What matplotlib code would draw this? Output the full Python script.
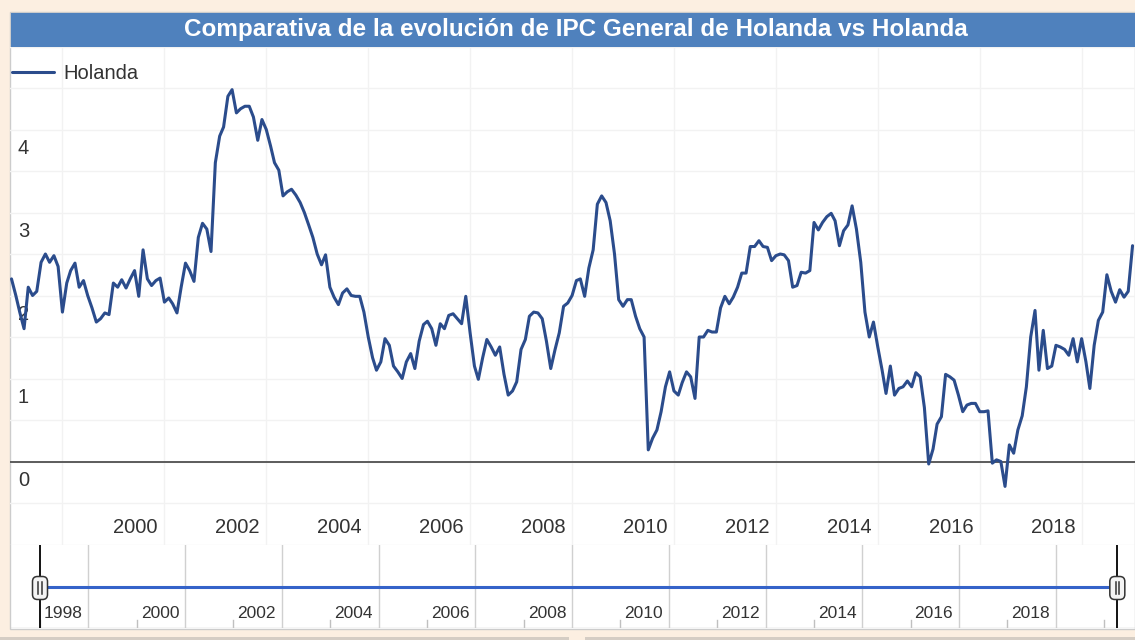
# -*- coding: utf-8 -*-
"""
IPC General de Holanda - variacion anual, con navegador abajo
"""

#%% Import modules
import pandas as pd
import matplotlib
matplotlib.use("Agg")
import matplotlib.pyplot as plt
import matplotlib.dates as mdates
import matplotlib.transforms as mtrans
from matplotlib.patches import Rectangle, FancyBboxPatch

#%% Data (mensuales desde ene-1998)
start = "1998-01-01"
v1998 = [2.2, 2.0, 1.8, 1.6, 2.1, 2.0, 2.05, 2.4, 2.5, 2.4, 2.48, 2.35]
v1999 = [1.8, 2.15, 2.3, 2.39, 2.1, 2.18, 2.0, 1.85, 1.68, 1.72, 1.79, 1.77]
v2000 = [2.15, 2.1, 2.19, 2.09, 2.2, 2.3, 1.99, 2.55, 2.2, 2.12, 2.18, 2.21]
v2001 = [1.92, 1.97, 1.9, 1.79, 2.1, 2.39, 2.3, 2.17, 2.7, 2.87, 2.8, 2.53]
v2002 = [3.6, 3.92, 4.03, 4.4, 4.48, 4.2, 4.25, 4.28, 4.28, 4.15, 3.87, 4.12]
v2003 = [4.0, 3.8, 3.6, 3.51, 3.2, 3.25, 3.28, 3.21, 3.12, 3.0, 2.85, 2.7]
v2004 = [2.5, 2.37, 2.49, 2.1, 1.98, 1.89, 2.03, 2.08, 2.0, 1.99, 1.99, 1.8]
v2005 = [1.5, 1.25, 1.1, 1.2, 1.48, 1.4, 1.15, 1.08, 1.0, 1.2, 1.3, 1.12]
v2006 = [1.45, 1.65, 1.69, 1.6, 1.4, 1.66, 1.6, 1.76, 1.78, 1.72, 1.66, 1.99]
v2007 = [1.55, 1.15, 0.99, 1.25, 1.47, 1.38, 1.28, 1.38, 1.05, 0.8, 0.85, 0.96]
v2008 = [1.35, 1.47, 1.75, 1.80, 1.79, 1.72, 1.45, 1.12, 1.35, 1.55, 1.87, 1.91]
v2009 = [2.0, 2.18, 2.2, 1.99, 2.33, 2.55, 3.1, 3.2, 3.12, 2.9, 2.5, 1.95]
v2010 = [1.87, 1.95, 1.95, 1.75, 1.6, 1.5, 0.14, 0.28, 0.38, 0.6, 0.9, 1.08]
v2011 = [0.85, 0.8, 0.95, 1.08, 1.02, 0.76, 1.5, 1.5, 1.58, 1.56, 1.56, 1.85]
v2012 = [1.99, 1.9, 1.98, 2.1, 2.27, 2.27, 2.59, 2.59, 2.66, 2.59, 2.58, 2.42]
v2013 = [2.48, 2.5, 2.49, 2.42, 2.1, 2.12, 2.28, 2.27, 2.3, 2.88, 2.79, 2.88]
v2014 = [2.95, 2.99, 2.9, 2.6, 2.78, 2.85, 3.08, 2.8, 2.4, 1.8, 1.5, 1.68]
v2015 = [1.38, 1.1, 0.82, 1.15, 0.8, 0.88, 0.9, 0.97, 0.9, 1.07, 1.02, 0.65]
v2016 = [-0.03, 0.15, 0.45, 0.54, 1.05, 1.02, 0.98, 0.8, 0.6, 0.68, 0.7, 0.7]
v2017 = [0.6, 0.6, 0.61, -0.02, 0.02, 0.0, -0.3, 0.2, 0.1, 0.38, 0.55, 0.9]
v2018 = [1.5, 1.82, 1.1, 1.58, 1.12, 1.15, 1.4, 1.38, 1.35, 1.28, 1.48, 1.2]
v2019 = [1.48, 1.2, 0.88, 1.4, 1.7, 1.8, 2.25, 2.05, 1.92, 2.07, 1.98, 2.05]
v2020 = [2.6]

values = (v1998 + v1999 + v2000 + v2001 + v2002 + v2003 + v2004 + v2005 + v2006
          + v2007 + v2008 + v2009 + v2010 + v2011 + v2012 + v2013 + v2014 + v2015
          + v2016 + v2017 + v2018 + v2019 + v2020)
dates = pd.date_range(start, periods=len(values), freq="MS")
serie = pd.Series(values, index=dates)

yticks = [0, 1, 2, 3, 4]
label_years = list(range(2000, 2020, 2))
nav_years = list(range(1998, 2020, 2))
nav_range = ("1998-01-01", "2020-04-10")

title = "Comparativa de la evolución de IPC General de Holanda vs Holanda"
legend_name = "Holanda"

#%% Config
W, H = 1135, 640
peach = "#fcefe1"
bar_blue = "#4f81bd"
line_blue = "#2b4c8c"
nav_blue = "#3563c9"
txt = "#333333"
grid = "#f2f2f2"
plt.rcParams["font.family"] = ["Liberation Sans", "DejaVu Sans"]


def rect(x0, y0, x1, y1):
    """pixel box (top-down) -> figure fraction [l, b, w, h]"""
    return [x0 / W, 1 - y1 / H, (x1 - x0) / W, (y1 - y0) / H]


fig = plt.figure(figsize=(W / 100, H / 100), dpi=100, facecolor=peach)

# white container + title bar
fig.patches.append(Rectangle((10 / W, 1 - 629 / H), 1125 / W, 617 / H, transform=fig.transFigure,
                             facecolor="white", edgecolor="#cccccc", lw=1, zorder=-2))
fig.patches.append(Rectangle((11 / W, 1 - 47 / H), 1124 / W, 34 / H, transform=fig.transFigure,
                             facecolor=bar_blue, edgecolor="none", zorder=1))
fig.text(576 / W, 1 - 29.5 / H, title, color="white", fontsize=17.5, fontweight="bold",
         ha="center", va="center")
# bottom strip
fig.patches.append(Rectangle((0, 0), 569 / W, 3 / H, transform=fig.transFigure,
                             facecolor="#d5cdc4", edgecolor="none"))
fig.patches.append(Rectangle((585 / W, 0), 550 / W, 3 / H, transform=fig.transFigure,
                             facecolor="#d5cdc4", edgecolor="none"))

#%% Main chart
ax = fig.add_axes(rect(10, 46.5, 1135, 544.5))
ax.set_facecolor("none")
d0 = mdates.date2num(pd.Timestamp(start))
px_main = 365.25 / 50.96  # days per pixel
ax.set_xlim(d0 - 1.5 * px_main, d0 - 1.5 * px_main + 1125 * px_main)
ax.set_ylim(-1, 5)
for s in ax.spines.values():
    s.set_visible(False)
ax.set_xticks([])
ax.set_yticks([])

for k in range(-2, 11):
    ax.axhline(k * 0.5, color=grid, lw=1, zorder=0)
for yr in range(1999, 2021, 2):
    ax.axvline(pd.Timestamp(f"{yr}-01-01"), color=grid, lw=1, zorder=0)
ax.axhline(0, color="#505050", lw=1.3, zorder=2)

ax.plot(serie.index, serie.values, color=line_blue, lw=2.2, zorder=3, label=legend_name,
        solid_joinstyle="round", solid_capstyle="round")

ytrans = mtrans.blended_transform_factory(ax.transAxes, ax.transData)
for v in yticks:
    ax.text(0.0071, v - 0.225, str(v), transform=ytrans, color=txt, fontsize=14.5,
            ha="left", va="center", zorder=1)
for yr in label_years:
    ax.text(pd.Timestamp(f"{yr}-01-01"), -0.795, str(yr), color=txt, fontsize=14.5,
            ha="left", va="center", zorder=1)

ax.legend(loc="upper left", bbox_to_anchor=((12 - 10) / 1125, (544.5 - 64) / 498), borderaxespad=0,
          borderpad=0, frameon=False, fontsize=14.5, handlelength=2.1, handletextpad=0.45,
          labelcolor=txt)

#%% Navigator
nav = fig.add_axes(rect(10, 545, 1135, 628))
nav.set_facecolor("none")
px_nav = 365.25 / 48.37
nav.set_xlim(d0 - 30 * px_nav, d0 - 30 * px_nav + 1125 * px_nav)
nav.set_ylim(0, 1)
for s in nav.spines.values():
    s.set_visible(False)
nav.set_xticks([])
nav.set_yticks([])
nav.axhline(0, color="#cccccc", lw=1)
for yr in range(1999, 2021, 2):
    nav.axvline(pd.Timestamp(f"{yr}-01-01"), color="#d0d0d0", lw=1, zorder=0)
for yr in nav_years + [2020]:
    t = pd.Timestamp(f"{yr}-01-01")
    nav.plot([t, t], [0, 0.1], color="#c0c0c0", lw=1, zorder=1)
for yr in nav_years:
    nav.annotate(str(yr), (pd.Timestamp(f"{yr}-01-01"), 0.18), xytext=(4, 0),
                 textcoords="offset pixels", color=txt, fontsize=12.5, ha="left", va="center")

n0, n1 = pd.Timestamp(nav_range[0]), pd.Timestamp(nav_range[1])
nav.plot([n0, n1], [0.494, 0.494], color=nav_blue, lw=2.2, zorder=2)
for t in (n0, n1):
    nav.axvline(t, color="black", lw=1.3, zorder=3)
    xp = nav.transData.transform((mdates.date2num(t), 0))[0]
    yp = H - 588
    fig.patches.append(FancyBboxPatch((xp - 6, yp - 10), 12, 20, boxstyle="round,pad=1.5,rounding_size=5",
                                      transform=None, facecolor="#f4f4f4", edgecolor="#333333", lw=1.1,
                                      zorder=5))
    for dx in (-1.8, 1.8):
        fig.lines.append(plt.Line2D([xp + dx, xp + dx], [yp - 6, yp + 6], transform=None,
                                    color="#333333", lw=1.1, zorder=6))

fig.savefig("out.png", dpi=100, facecolor=peach)
